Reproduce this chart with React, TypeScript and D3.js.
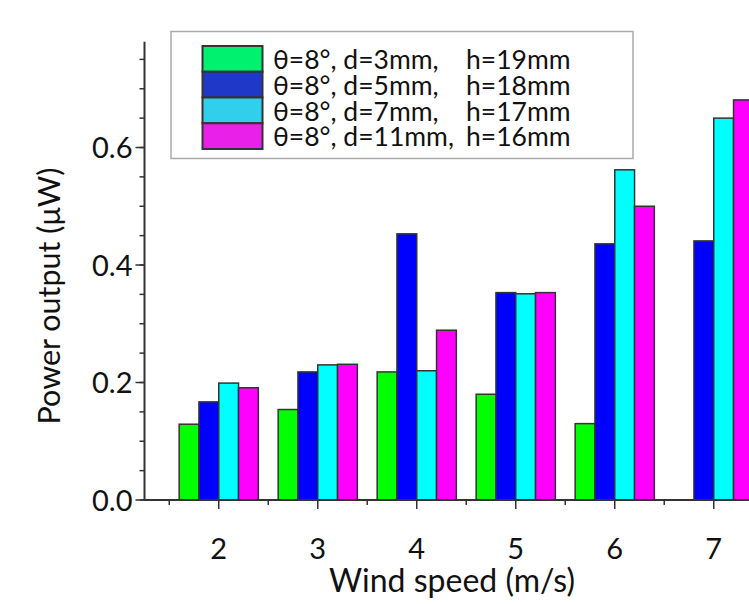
import React from 'react';
import * as d3 from 'd3';

// wind speed groups
const speeds = [2, 3, 4, 5, 6, 7];
// power output (μW) per configuration
const d3mm = [0.129, 0.154, 0.218, 0.18, 0.13, null];
const d5mm = [0.167, 0.218, 0.453, 0.353, 0.436, 0.441];
const d7mm = [0.199, 0.23, 0.22, 0.351, 0.562, 0.65];
const d11mm = [0.191, 0.231, 0.289, 0.353, 0.5, 0.681];
const seriesNames = ['θ=8°, d=3mm,', 'θ=8°, d=5mm,', 'θ=8°, d=7mm,', 'θ=8°, d=11mm,'];
const seriesH = ['h=19mm', 'h=18mm', 'h=17mm', 'h=16mm'];
const yTicks = [0, 0.2, 0.4, 0.6];
const xTicks = [2, 3, 4, 5, 6, 7];

const barColors = ['#00ff00', '#0000ff', '#00ffff', '#ff00ff'];
const legendColors = ['#00f070', '#2038c8', '#30d0ec', '#e820e8'];
const font = 'Lato, "Open Sans", sans-serif';
const axisColor = '#333';

const App = () => {
  const width = 749;
  const height = 604;
  const allSeries = [d3mm, d5mm, d7mm, d11mm];

  const x = d3.scaleLinear().domain([1.25, 7.75]).range([144.5, 144.5 + 6.5 * 99]);
  const y = d3.scaleLinear().domain([0, 0.78]).range([500, 500 - 0.78 * 587.5]);
  const inner = d3.scaleBand().domain(seriesNames).range([-0.4, 0.4]);

  const minorY = d3.range(0, 0.76, 0.05);
  const minorX = d3.range(1.5, 8, 1);
  const x0 = x(1.25);

  return (
    <div style={{ position: 'absolute', left: 0, top: 0 }}>
      <svg width={width} height={height} style={{ display: 'block', fontFamily: font }}>
        <rect width={width} height={height} fill="#fff" />

        {/* bars */}
        {allSeries.map((vals, si) => (
          <g key={si}>
            {vals.map((v, i) => {
              if (v == null) return null;
              const left = speeds[i] + (inner(seriesNames[si]) as number);
              return (
                <rect
                  key={i}
                  x={x(left)}
                  y={y(v)}
                  width={x(left + inner.bandwidth()) - x(left)}
                  height={y(0) - y(v)}
                  fill={barColors[si]}
                  stroke={axisColor}
                  strokeWidth={1.5}
                />
              );
            })}
          </g>
        ))}

        {/* y axis */}
        <line x1={x0} x2={x0} y1={y(0.78)} y2={y(0)} stroke={axisColor} strokeWidth={2} />
        {minorY.map((t) => (
          <line key={'my' + t} x1={x0 - 5} x2={x0} y1={y(t)} y2={y(t)} stroke={axisColor} strokeWidth={1.5} />
        ))}
        {yTicks.map((t) => (
          <g key={'y' + t}>
            <line x1={x0 - 9} x2={x0} y1={y(t)} y2={y(t)} stroke={axisColor} strokeWidth={1.5} />
            <text x={x0 - 12} y={y(t) + 10.5} textAnchor="end" fontSize={29} fill="#111">
              {d3.format('.1f')(t)}
            </text>
          </g>
        ))}

        {/* x axis */}
        <line x1={x0 - 1} x2={width} y1={y(0)} y2={y(0)} stroke={axisColor} strokeWidth={2} />
        {minorX.map((t) => (
          <line key={'mx' + t} x1={x(t)} x2={x(t)} y1={y(0)} y2={y(0) + 5} stroke={axisColor} strokeWidth={1.5} />
        ))}
        {xTicks.map((t) => (
          <g key={'x' + t}>
            <line x1={x(t)} x2={x(t)} y1={y(0)} y2={y(0) + 9} stroke={axisColor} strokeWidth={1.5} />
            <text x={x(t)} y={559} textAnchor="middle" fontSize={29} fill="#111">
              {t}
            </text>
          </g>
        ))}

        {/* axis titles */}
        <text x={452} y={592} textAnchor="middle" fontSize={32} fill="#111">
          Wind speed (m/s)
        </text>
        <text transform="translate(60,296) rotate(-90)" textAnchor="middle" fontSize={30.5} fill="#111">
          Power output (μW)
        </text>

        {/* legend */}
        <rect x={171} y={31.5} width={462} height={127} fill="#fff" stroke="#aaa" strokeWidth={1.5} />
        {seriesNames.map((name, i) => (
          <g key={'lg' + i}>
            <rect x={202.5} y={46 + i * 25.75} width={60} height={25.75} fill={legendColors[i]} stroke={axisColor} strokeWidth={2} />
            <text x={273} y={46 + i * 25.75 + 23} fontSize={26.5} fill="#111">
              {name}
            </text>
            <text x={466} y={46 + i * 25.75 + 23} fontSize={26.5} fill="#111">
              {seriesH[i]}
            </text>
          </g>
        ))}
      </svg>
    </div>
  );
};

export default App;
